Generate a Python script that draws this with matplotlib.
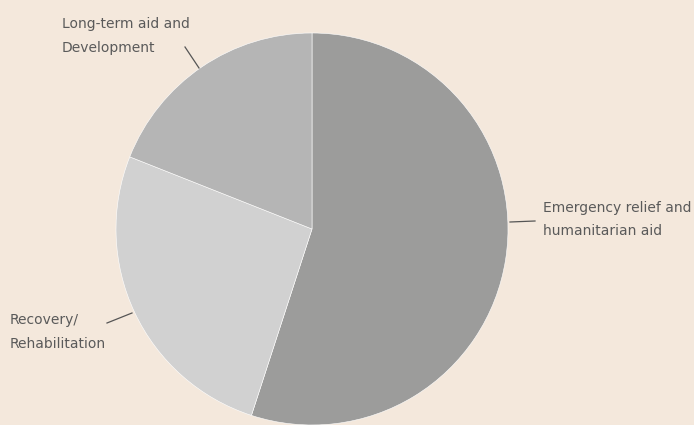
import matplotlib.pyplot as plt

labels = ['Emergency relief and\nhumanitarian aid', 'Recovery/\nRehabilitation', 'Long-term aid and\nDevelopment']
shares = [55, 26, 19]
colors = ['#9c9c9b', '#d1d1d1', '#b5b5b5']

bg = '#f4e8dc'
txt = '#5a5a5a'

fig = plt.figure(figsize=(6.94, 4.25), dpi=100, facecolor=bg)
ax = fig.add_axes([0, 0, 1, 1])
ax.set_facecolor(bg)

# pixel-ish coordinates, y goes up
ax.pie(shares, colors=colors, startangle=90, counterclock=False,
       center=(312, 196), radius=196,
       wedgeprops=dict(edgecolor='white', linewidth=0.4))
ax.set_xlim(0, 694)
ax.set_ylim(0, 425)
ax.set_aspect('auto')
ax.axis('off')

font = dict(family='DejaVu Sans', fontsize=10.0, color=txt, linespacing=1.85)

ax.text(543, 425 - 219.5, labels[0], ha='left', va='center', **font)
ax.plot([510, 535], [425 - 222, 425 - 221], color='#555555', lw=0.9)

ax.text(10, 425 - 332, labels[1], ha='left', va='center', **font)
ax.plot([107, 132], [425 - 323, 425 - 313], color='#555555', lw=0.9)

ax.text(62, 425 - 36, labels[2], ha='left', va='center', **font)
ax.plot([185, 199], [425 - 47, 425 - 68], color='#555555', lw=0.9)

plt.savefig('out.png', dpi=100, facecolor=bg)
